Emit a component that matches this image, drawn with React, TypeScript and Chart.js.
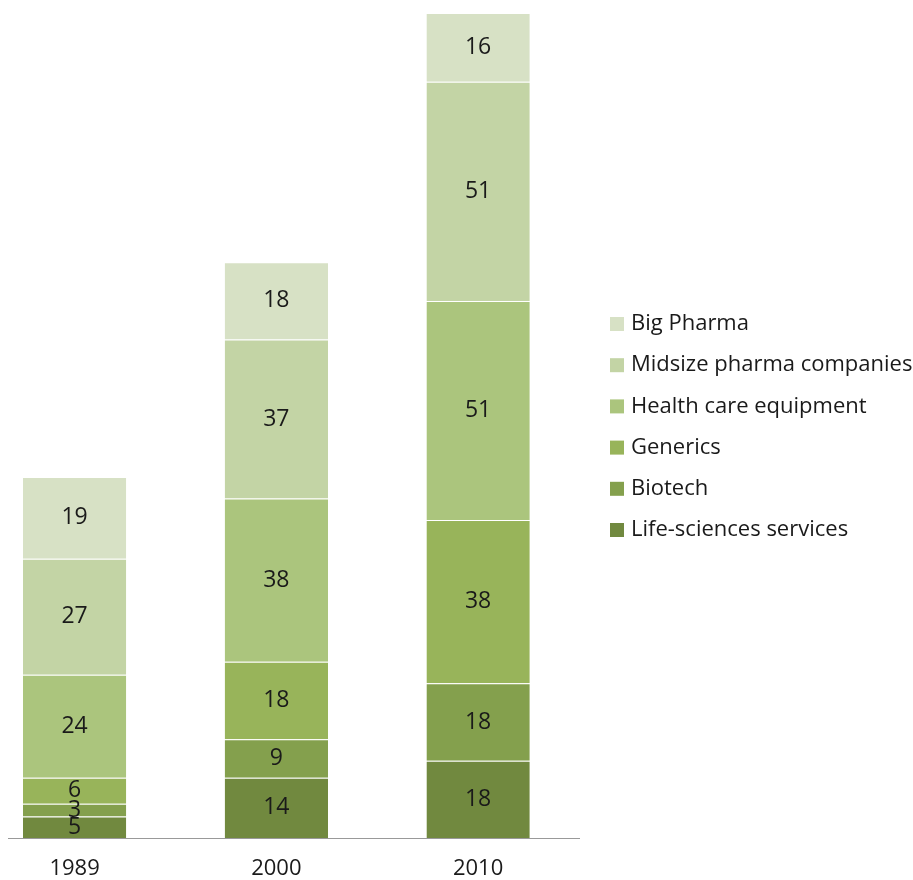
import React, { useEffect, useRef } from "react";
import { Chart, registerables } from "chart.js";

Chart.register(...registerables);

const categories = ["1989", "2000", "2010"];
const seriesNames = [
  "Life-sciences services",
  "Biotech",
  "Generics",
  "Health care equipment",
  "Midsize pharma companies",
  "Big Pharma",
];
const lifeSciences = [5, 14, 18];
const biotech = [3, 9, 18];
const generics = [6, 18, 38];
const healthCare = [24, 38, 51];
const midsize = [27, 37, 51];
const bigPharma = [19, 18, 16];
const seriesColors = ["#71893F", "#84A04D", "#98B45A", "#ABC57D", "#C3D4A5", "#D7E1C5"];

const FONT = "'Open Sans', 'Noto Sans', sans-serif";

const valueLabels = {
  id: "valueLabels",
  afterDatasetsDraw(chart: any) {
    const ctx = chart.ctx;
    ctx.save();
    ctx.font = `23px ${FONT}`;
    ctx.fillStyle = "#1a1a1a";
    ctx.textAlign = "center";
    ctx.textBaseline = "middle";
    chart.data.datasets.forEach((ds: any, di: number) => {
      const meta = chart.getDatasetMeta(di);
      meta.data.forEach((el: any, i: number) => {
        const { x, y, base } = el.getProps(["x", "y", "base"], true);
        ctx.fillText(String(ds.data[i].y), x, (y + base) / 2);
      });
    });
    ctx.restore();
  },
};

const sideLegend = {
  id: "sideLegend",
  afterDraw(chart: any) {
    const ctx = chart.ctx;
    const area = chart.chartArea;
    const boxX = area.right + 31;
    const startY = 324;
    const step = 41.2;
    ctx.save();
    ctx.font = `22px ${FONT}`;
    ctx.textBaseline = "middle";
    ctx.textAlign = "left";
    const items = chart.data.datasets.slice().reverse();
    items.forEach((ds: any, i: number) => {
      const cy = startY + i * step;
      ctx.fillStyle = ds.backgroundColor;
      ctx.fillRect(boxX, cy - 7, 14, 14);
      ctx.fillStyle = "#1a1a1a";
      ctx.fillText(ds.label, boxX + 21, cy);
    });
    ctx.restore();
  },
};

export default function App() {
  const ref = useRef<HTMLCanvasElement | null>(null);
  useEffect(() => {
    if (!ref.current) return;
    const seriesValues = [lifeSciences, biotech, generics, healthCare, midsize, bigPharma];
    const chart = new Chart(ref.current, {
      type: "bar",
      data: {
        datasets: seriesValues.map((vals, si) => ({
          label: seriesNames[si],
          data: vals.map((v, i) => ({ x: i, y: v })),
          backgroundColor: seriesColors[si],
          borderColor: "rgba(255,255,255,0.3)",
          borderWidth: { top: 1, bottom: 0, left: 0, right: 0 },
          borderSkipped: false,
          categoryPercentage: 1,
          barPercentage: 0.512,
        })),
      },
      options: {
        animation: false,
        responsive: true,
        maintainAspectRatio: false,
        layout: { padding: { left: 8, right: 334, top: 13, bottom: -20 } },
        plugins: { legend: { display: false }, tooltip: { enabled: false } },
        scales: {
          x: {
            type: "linear",
            min: -0.33,
            max: 2.5,
            offset: false,
            stacked: true,
            grid: { display: false, drawTicks: false },
            border: { display: true, color: "#999999", width: 1 },
            afterBuildTicks: (axis: any) => {
              axis.ticks = categories.map((_, i) => ({ value: i }));
            },
            ticks: {
              padding: 20,
              color: "#1a1a1a",
              font: { family: FONT, size: 22, lineHeight: 1.0 },
              callback: (v: any) => categories[v as number] ?? "",
              maxRotation: 0,
              autoSkip: false,
            },
          },
          y: {
            display: false,
            stacked: true,
            min: 0,
            max: 192,
          },
        },
      },
      plugins: [valueLabels, sideLegend],
    });
    return () => chart.destroy();
  }, []);
  return (
    <div style={{ position: "absolute", left: 0, top: 0, width: 913, height: 880, background: "#fff" }}>
      <canvas ref={ref} />
    </div>
  );
}
